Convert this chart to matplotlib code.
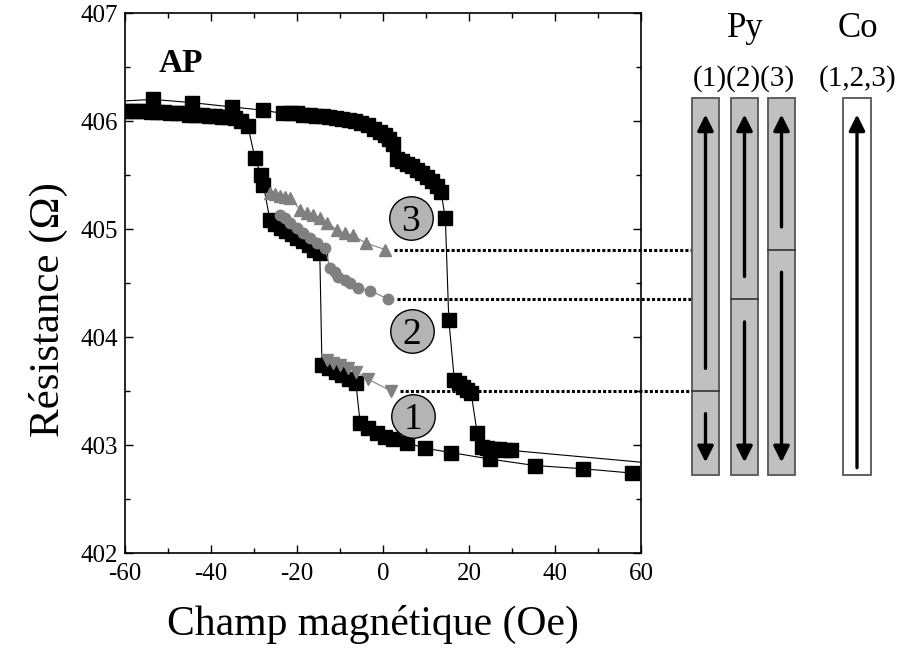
import matplotlib
matplotlib.use('Agg')
import matplotlib.pyplot as plt
from matplotlib.patches import Rectangle
from matplotlib.ticker import MultipleLocator

plt.rcParams['font.family'] = 'Liberation Serif'
plt.rcParams['axes.unicode_minus'] = False

# major loop, field swept upward (-60 -> +60 Oe)
up_x = [-63, -53.5, -44.4, -35.1, -27.9, -23.3, -21.5, -20.0, -18.5, -17.0, -15.5, -14.0,
        -12.5, -11.0, -9.5, -8.0, -6.5, -5.0, -3.5, -2.0, -0.7, 0.5, 1.5, 2.3, 3.2, 4.4,
        5.6, 6.8, 7.9, 9.0, 10.2, 11.4, 12.5, 13.5, 14.5, 15.3, 16.6, 17.6, 18.6, 19.6,
        20.5, 21.9, 23.0, 24.3, 25.6, 26.9, 28.3, 29.8, 63]
up_y = [406.18, 406.20, 406.17, 406.13, 406.10, 406.07, 406.07, 406.07, 406.06, 406.06,
        406.05, 406.05, 406.04, 406.03, 406.02, 406.01, 406.00, 405.98, 405.96, 405.93,
        405.90, 405.87, 405.83, 405.79, 405.65, 405.63, 405.60, 405.58, 405.55, 405.52,
        405.48, 405.44, 405.40, 405.34, 405.10, 404.16, 403.60, 403.57, 403.54, 403.51,
        403.48, 403.11, 402.98, 402.97, 402.96, 402.96, 402.95, 402.95, 402.83]

# major loop, field swept downward (+60 -> -60 Oe)
dn_x = [57.9, 46.5, 35.3, 24.9, 15.8, 9.8, 5.6, 2.3, 0.5, -1.4, -3.5, -5.3, -6.3, -7.9,
        -9.5, -11.0, -12.6, -14.2, -14.7, -16.0, -17.3, -18.6, -19.9, -21.2, -22.5, -23.8,
        -25.1, -26.3, -27.8, -28.4, -29.8, -31.4, -33.0, -34.5, -36.0, -37.5, -39.0, -40.5,
        -42.0, -43.5, -45.0, -46.5, -48.0, -49.5, -51.0, -52.5, -54.0, -55.5, -57.0, -58.5,
        -60.0]
dn_y = [402.74, 402.78, 402.81, 402.87, 402.93, 402.97, 403.02, 403.06, 403.07, 403.11,
        403.16, 403.20, 403.57, 403.61, 403.65, 403.68, 403.71, 403.74, 404.78, 404.81,
        404.85, 404.89, 404.92, 404.95, 404.98, 405.01, 405.05, 405.08, 405.41, 405.50,
        405.66, 405.95, 406.00, 406.03, 406.04, 406.04, 406.05, 406.05, 406.06, 406.06,
        406.06, 406.07, 406.07, 406.07, 406.08, 406.08, 406.08, 406.09, 406.09, 406.09,
        406.09]

# minor loops (3) triangles up, (2) circles, (1) triangles down
m3_x = [-26.3, -25.1, -24.0, -22.8, -21.6, -19.3, -17.7, -16.3, -14.7, -13.0, -10.7, -8.8, -7.0, -4.0, 0.5]
m3_y = [405.33, 405.32, 405.31, 405.30, 405.29, 405.18, 405.15, 405.13, 405.10, 405.06,
        404.99, 404.96, 404.94, 404.87, 404.81]
m2_x = [-24.0, -22.8, -21.6, -20.0, -18.6, -17.0, -15.3, -13.5, -12.3, -11.2, -10.5, -8.8, -7.7, -5.8, -3.0, 1.2]
m2_y = [405.13, 405.10, 405.06, 405.01, 404.96, 404.92, 404.87, 404.82, 404.64, 404.60,
        404.56, 404.53, 404.50, 404.45, 404.43, 404.35]
m1_x = [-13.0, -11.6, -10.0, -8.1, -6.3, -3.5, 1.9]
m1_y = [403.79, 403.76, 403.74, 403.71, 403.68, 403.61, 403.50]

# numbered markers
num_labels = ['1', '2', '3']
num_x = [7.0, 6.7, 6.5]
num_y = [403.27, 404.06, 405.10]

gray = '#808080'

fig = plt.figure(figsize=(9.04, 6.48), dpi=100)
ax = fig.add_axes([125 / 904, 1 - 553 / 648, 516 / 904, 540 / 648])

ax.plot(up_x, up_y, color='k', lw=0.8, marker='s', ms=9.5, zorder=3)
ax.plot(dn_x, dn_y, color='k', lw=0.8, marker='s', ms=9.5, zorder=3)
ax.plot(m3_x, m3_y, color=gray, lw=0.8, marker='^', ms=8.5, zorder=4)
ax.plot(m2_x, m2_y, color=gray, lw=0.8, marker='o', ms=7.5, zorder=4)
ax.plot(m1_x, m1_y, color=gray, lw=0.8, marker='v', ms=8.5, zorder=4)

ax.scatter(num_x, num_y, s=980, c='#b4b4b4', edgecolors='k', linewidths=1, zorder=5)
for lab, x, y in zip(num_labels, num_x, num_y):
    ax.text(x, y, lab, fontsize=27, ha='center', va='center_baseline', zorder=6)

# dotted lines from the end of each minor loop to the domain sketch
levels = [m1_y[-1], m2_y[-1], m3_y[-1]]
starts = [m1_x[-1], m2_x[-1], m3_x[-1]]
for x0, lv in zip(starts, levels):
    ax.plot([x0 + 2, 71.9], [lv, lv], color='k', lw=2.2, ls=(0, (1, 0.7)),
            clip_on=False, zorder=2)

ax.text(-52.1, 406.45, 'AP', fontsize=24, fontweight='bold', ha='left', va='baseline')

ax.set_xlim(-60, 60)
ax.set_ylim(402, 407)
ax.xaxis.set_major_locator(MultipleLocator(20))
ax.xaxis.set_minor_locator(MultipleLocator(10))
ax.yaxis.set_major_locator(MultipleLocator(1))
ax.yaxis.set_minor_locator(MultipleLocator(0.5))
ax.tick_params(which='both', direction='in', top=True, right=True, width=1, labelsize=18)
ax.tick_params(which='major', length=6)
ax.tick_params(which='minor', length=3.5)
ax.tick_params(axis='x', pad=7)
ax.tick_params(axis='y', pad=5)
for sp in ax.spines.values():
    sp.set_linewidth(1.2)

ax.set_xlabel('Champ magnétique (Oe)', fontsize=30)
ax.set_ylabel('Résistance (Ω)', fontsize=31)
ax.xaxis.set_label_coords(0.48, -0.096)
ax.yaxis.set_label_coords(-0.11, 0.45)

# domain sketch on the right, same resistance scale vertically
dg = fig.add_axes([641 / 904, 1 - 553 / 648, 263 / 904, 540 / 648])
dg.set_xlim(641, 904)
dg.set_ylim(402, 407)
dg.axis('off')
dg.patch.set_visible(False)

bar_top = 406.21
bar_bot = 402.72
bar_w = 27
py_left = [692, 731, 768]
co_left = 843
tip_up = 406.06
tip_dn = 402.84
gap = 0.21

def arrow(x, y0, y1):
    dg.annotate('', xy=(x, y1), xytext=(x, y0),
                arrowprops=dict(arrowstyle='-|>', color='k', lw=2.4,
                                mutation_scale=24, shrinkA=0, shrinkB=0))

for x0, lv in zip(py_left, levels):
    dg.add_patch(Rectangle((x0, bar_bot), bar_w, bar_top - bar_bot,
                           fc='#c0c0c0', ec='#555555', lw=1.3))
    dg.plot([x0, x0 + bar_w], [lv, lv], color='#333333', lw=1.2)
    xc = x0 + bar_w / 2
    arrow(xc, lv + gap, tip_up)
    arrow(xc, lv - gap, tip_dn)

dg.add_patch(Rectangle((co_left, bar_bot), bar_w + 1, bar_top - bar_bot,
                       fc='white', ec='#555555', lw=1.3))
arrow(co_left + (bar_w + 1) / 2, 402.79, tip_up)

dg.text(745, 406.78, 'Py', fontsize=25, ha='center', va='baseline')
dg.text(858, 406.78, 'Co', fontsize=25, ha='center', va='baseline')
dg.text(744, 406.33, '(1)(2)(3)', fontsize=21, ha='center', va='baseline')
dg.text(858, 406.33, '(1,2,3)', fontsize=21, ha='center', va='baseline')

fig.savefig('out.png', dpi=100)
